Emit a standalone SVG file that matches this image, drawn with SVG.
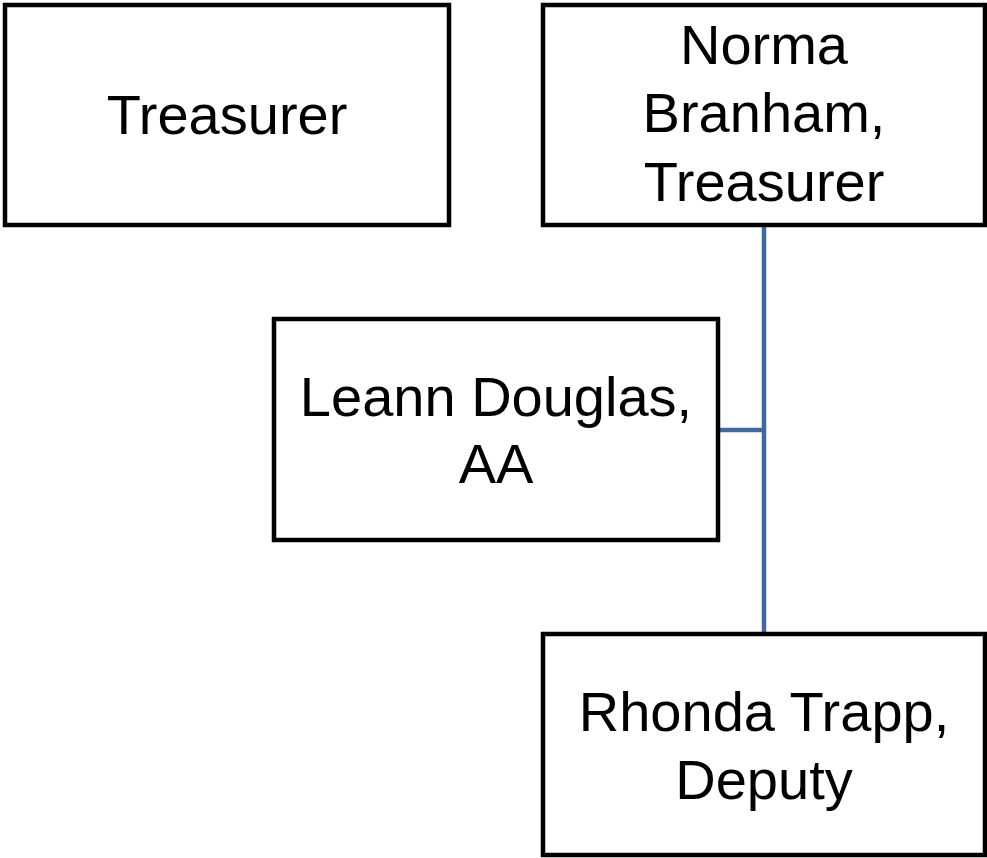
<svg xmlns="http://www.w3.org/2000/svg" width="987" height="858" viewBox="0 0 987 858">
<style>
.box{fill:#fff;stroke:#000;stroke-width:4.5}
.t{font-family:"Liberation Sans",Arial,sans-serif;font-size:56px;fill:#000;text-anchor:middle}
.c{fill:none;stroke:#41699E;stroke-width:4.5}
</style>
<rect width="987" height="858" fill="#fff"/>
<g id="connectors">
<path class="c" d="M764 225V634M718 430H764"/>
</g>
<g id="treasurer">
<rect class="box" x="5" y="5" width="444" height="220"/>
<text class="t" x="227" y="134">Treasurer</text>
</g>
<g id="norma">
<rect class="box" x="543" y="5" width="442" height="220"/>
<text class="t" x="764" y="64">Norma</text>
<text class="t" x="764" y="132">Branham,</text>
<text class="t" x="764" y="201">Treasurer</text>
</g>
<g id="leann">
<rect class="box" x="274" y="319" width="444" height="221"/>
<text class="t" x="496" y="416">Leann Douglas,</text>
<text class="t" x="496" y="483">AA</text>
</g>
<g id="rhonda">
<rect class="box" x="543" y="634" width="442" height="221"/>
<text class="t" x="764" y="731">Rhonda Trapp,</text>
<text class="t" x="764" y="799">Deputy</text>
</g>
</svg>
